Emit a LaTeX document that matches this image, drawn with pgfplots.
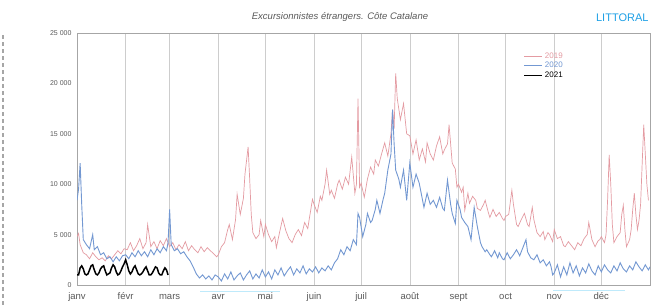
\documentclass[border=0pt]{standalone}
\usepackage{fontspec}
\setmainfont{Liberation Sans}
\usepackage{pgfplots}
\pgfplotsset{compat=1.18}
\definecolor{c19}{RGB}{228,155,162}
\definecolor{c20}{RGB}{115,152,210}
\definecolor{gridc}{RGB}{205,205,205}
\definecolor{tickc}{RGB}{90,90,90}
\definecolor{litt}{RGB}{30,160,230}
\begin{document}
\begin{tikzpicture}[x=1pt,y=1pt]
\useasboundingbox (0,0) rectangle (653,305);
\fill[white] (0,0) rectangle (653,305);
\draw[gray!70, line width=1.4pt, dash pattern=on 4pt off 3pt] (3,0) -- (3,272);
\draw[cyan!25, line width=0.8pt] (200,14) -- (280,14);
\draw[cyan!25, line width=0.8pt] (553,15) -- (625,15);
\node[font=\fontsize{9.5}{11}\selectfont\itshape, text=tickc] at (340,288) {Excursionnistes étrangers. Côte Catalane};
\node[font=\fontsize{11}{13}\selectfont, text=litt, anchor=east] at (652,287) {LITTORAL};
\begin{axis}[
  at={(77pt,20pt)}, anchor=south west,
  scale only axis, width=573pt, height=252pt,
  xmin=0, xmax=365, ymin=0, ymax=25000,
  scaled y ticks=false,
  axis line style={draw=gray!70},
  xtick={0,31,59,90,120,151,181,212,243,273,304,334},
  xticklabels={janv,févr,mars,avr,mai,juin,juil,août,sept,oct,nov,déc},
  ytick={0,5000,10000,15000,20000,25000},
  yticklabels={0,5 000,10 000,15 000,20 000,25 000},
  major tick length=0pt,
  xmajorgrids, major grid style={gridc, line width=0.6pt},
  xticklabel style={font=\fontsize{9.5}{11}\selectfont, text=tickc, anchor=base, yshift=-15pt},
  yticklabel style={font=\fontsize{7}{8}\selectfont, text=tickc, xshift=-2pt},
  legend style={draw=none, fill=none, at={(0.777,0.935)}, anchor=north west,
    font=\fontsize{8}{9.5}\selectfont, row sep=-1.5pt, inner sep=1pt},
  legend cell align=left,
  legend image code/.code={\draw[#1] (0pt,0pt) -- (18pt,0pt);},
]
\addplot[c19, line width=0.7pt] coordinates {
(0,4800)(1,5100)(2,4000)(4,3200)(6,3000)(8,2600)(10,3200)(12,2800)(14,2500)(16,2700)(18,2400)(20,2900)(22,2600)(24,3000)(26,3400)(28,3100)(30,3600)
(32,3500)(34,4200)(36,3400)(38,3900)(40,4600)(42,3600)(44,4200)(45,6000)(47,3800)(49,4300)(51,3600)(53,4400)(55,3900)(57,4600)
(59,3800)(61,4200)(63,3500)(65,4000)(67,3600)(69,4300)(71,3400)(73,3900)(75,3500)(77,3200)(79,3800)(81,3300)(83,3700)(85,3400)(87,3100)(89,2800)
(90,3000)(92,3800)(94,4200)(96,5500)(97,6000)(99,4500)(101,6500)(102,9000)(104,7000)(106,8600)(107,11000)(109,13700)(110,10500)(111,7000)(112,5200)(114,4600)(116,5000)(117,6400)(119,4800)
(120,6000)(122,5000)(124,4300)(126,4800)(127,3700)(129,5200)(131,6600)(133,5400)(135,4600)(137,4200)(139,5000)(141,5500)(143,4900)(145,6200)(147,5600)(148,6600)(150,8500)
(151,8000)(153,7200)(155,8800)(156,8400)(158,10000)(159,11400)(161,9000)(162,9400)(164,8600)(166,10000)(167,10400)(169,9500)(171,10700)(173,10000)(175,12700)(177,9100)(178,10000)(179,18500)(180,9700)
(181,10100)(183,8700)(185,10500)(187,11700)(189,11000)(190,12400)(192,11800)(194,13000)(196,14100)(198,12800)(200,15000)(201,17400)(202,15500)(203,21000)(204,18500)(206,16400)(208,18000)(210,15000)
(212,14800)(214,13000)(216,14400)(218,12400)(220,13500)(222,12200)(223,14100)(225,13000)(227,12400)(229,13800)(231,14700)(233,13000)(234,13400)(236,14000)(237,15900)(239,12100)(241,11500)(242,9700)
(243,10000)(245,9200)(246,9700)(247,7400)(249,9100)(250,8100)(252,8800)(254,8400)(255,7600)(257,7400)(259,8000)(260,8400)(262,7200)(263,6700)(265,7500)(267,6800)(269,7200)(271,6600)(272,6400)
(273,6800)(275,7000)(277,9400)(278,8000)(280,6000)(281,5800)(283,6500)(285,7100)(287,6000)(288,5800)(290,7700)(291,6500)(293,5200)(295,4800)(297,5300)(298,4500)(300,5200)(301,5000)(303,4300)
(304,5500)(306,4600)(308,4800)(310,3900)(311,3800)(313,4300)(315,3900)(317,3500)(319,4200)(321,3900)(323,4600)(325,5000)(326,6200)(328,4500)(330,3800)(332,4400)(333,4500)
(334,4800)(336,4200)(337,5000)(338,8500)(339,12900)(340,10000)(341,6000)(342,4200)(344,4800)(346,5200)(347,7000)(348,7900)(349,5500)(350,3800)(352,4500)(353,5500)(354,7500)(355,9100)(356,7000)(357,5500)(358,6400)(359,8000)(360,12000)(361,15900)(362,13000)(363,10000)(364,8400)
};
\addlegendentry{\textcolor{c19}{2019}}
\addplot[c20, line width=0.9pt] coordinates {
(0,8400)(1,9500)(2,12100)(3,8000)(4,4500)(6,4000)(8,3600)(10,5000)(11,3500)(13,3800)(15,3000)(17,3200)(19,2600)(21,2800)(23,2300)(25,2800)(27,2400)(29,2900)
(31,3000)(33,2600)(35,3200)(37,2800)(39,3400)(41,2900)(43,3300)(45,2800)(47,3500)(49,3000)(51,3600)(53,3200)(55,3800)(57,3400)(58,4200)(59,7500)(60,4000)
(62,3400)(64,3600)(66,3100)(68,3300)(70,2800)(72,2400)(74,1800)(76,1100)(78,700)(80,1000)(82,600)(84,900)(86,500)(88,1000)
(90,800)(92,400)(94,1100)(96,600)(98,1300)(100,500)(102,900)(104,1200)(106,500)(108,1000)(110,1400)(112,600)(114,1100)(116,700)(118,1500)(120,800)(122,1300)(124,600)(126,1500)(128,1000)(130,1700)(132,900)(134,1400)(136,1800)(138,1000)(140,1600)(142,1200)(144,1900)(146,1100)(148,1600)(150,1300)
(152,1800)(154,1200)(156,1700)(158,1400)(160,1900)(162,1500)(164,2200)(166,2600)(168,3500)(170,3000)(172,3800)(174,3400)(176,4500)(178,4000)(179,7100)
(180,6700)(182,4800)(184,6000)(185,7100)(187,6200)(188,6400)(190,7500)(191,8400)(193,7100)(195,8500)(196,9100)(198,11400)(200,13000)(201,17400)(202,14000)(203,11400)(205,10500)(206,9700)(208,11400)(210,8400)(212,12100)
(214,9700)(216,11000)(218,10100)(220,8500)(221,7700)(223,9100)(225,8000)(227,8400)(229,7700)(231,8700)(233,7600)(234,7400)(236,10400)(238,8000)(239,7100)(241,6100)(242,8400)
(244,7500)(245,6700)(247,6200)(249,5800)(251,4500)(253,7700)(255,5800)(257,4200)(258,3800)(260,3300)(261,3500)(263,3000)(264,2800)(266,3400)(268,2700)(269,3200)(271,2600)(272,2500)
(274,3200)(276,2600)(278,3000)(280,3500)(282,2900)(284,3700)(286,4500)(287,3300)(289,2700)(291,2500)(293,3000)(295,2200)(297,2500)(299,1900)(301,2300)(302,1800)(303,1000)
(304,1200)(306,2000)(308,800)(310,1800)(312,1000)(314,2200)(316,1200)(318,1900)(320,900)(322,1700)(324,1200)(326,2100)(328,1400)(330,1000)(332,1900)(334,1300)(336,2000)(338,1500)(340,1200)(342,1900)(344,1400)(346,2200)(348,1600)(350,1300)(352,1900)(354,1500)(356,2300)(358,1800)(360,1400)(362,2000)(364,1500)(365,1800)
};
\addlegendentry{\textcolor{c20}{2020}}
\addplot[black, line width=1.5pt] coordinates {
(0,1000)(1,1000)(2,1700)(3,1900)(4,1600)(5,1100)(6,1000)(7,1100)(8,1500)(9,1900)(10,2000)(11,1500)(12,1100)(13,1000)(14,1200)(15,1600)(16,1800)(17,1900)(18,1400)(19,1000)(20,1100)(21,1200)(22,1700)(23,2000)(24,1800)(25,1300)(26,1000)(27,1100)(28,1400)(29,1800)(30,2100)(31,2500)(32,2000)(33,1400)(34,1100)(35,1300)(36,1700)(37,1900)(38,1500)(39,1100)(40,1000)(41,1100)(42,1300)(43,1600)(44,1800)(45,1400)(46,1000)(47,1000)(48,1200)(49,1500)(50,1800)(51,1700)(52,1200)(53,1000)(54,1000)(55,1400)(56,1700)(57,1500)(58,1000)
};
\addlegendentry{2021}
\end{axis}
\end{tikzpicture}
\end{document}
